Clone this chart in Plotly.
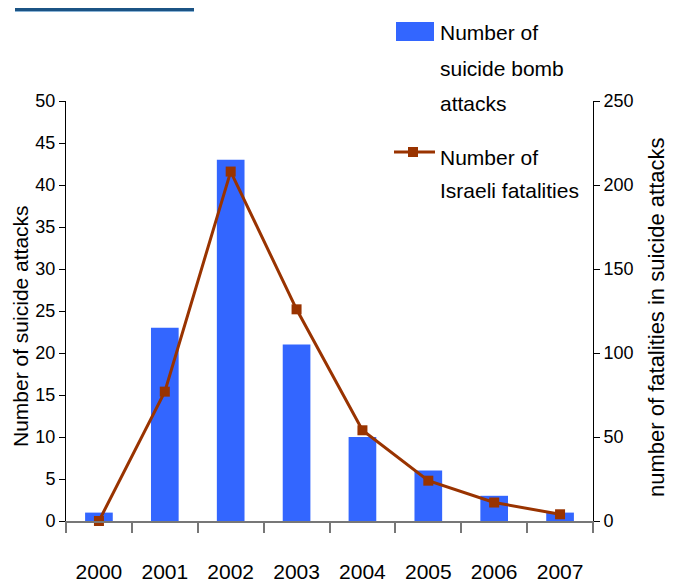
import plotly.graph_objects as go

years = ["2000", "2001", "2002", "2003", "2004", "2005", "2006", "2007"]
attacks = [1, 23, 43, 21, 10, 6, 3, 1]
fatalities = [0, 77, 208, 126, 54, 24, 11, 4]
left_ticks = list(range(0, 51, 5))
right_ticks = list(range(0, 251, 50))
legend_bar_lines = ["Number of", "suicide bomb", "attacks"]
legend_line_lines = ["Number of", "Israeli fatalities"]

FONT = "Liberation Sans, Arial, sans-serif"
BLUE = "#3366FF"
BROWN = "#993300"

fig = go.Figure()
fig.add_trace(go.Bar(x=years, y=attacks, marker=dict(color=BLUE, line=dict(width=0)),
                     name="Number of suicide bomb attacks", showlegend=False))
fig.add_trace(go.Scatter(x=years, y=fatalities, yaxis="y2", mode="lines+markers",
                         line=dict(color=BROWN, width=3),
                         marker=dict(symbol="square", size=10, color=BROWN),
                         cliponaxis=False, name="Number of Israeli fatalities", showlegend=False))

OFF = 8  # page body margin
W, H = 662, 577
L, R, T, B = 58, 77, 93, 64
pw, ph = W - L - R, H - T - B
def px(x): return (x - OFF - L) / pw
def py(y): return (H - B - (y - OFF)) / ph

fig.update_layout(
    width=W, height=H,
    margin=dict(l=L, r=R, t=T, b=B, autoexpand=False),
    paper_bgcolor="white", plot_bgcolor="white",
    bargap=0.58,
    xaxis=dict(type="category", tickson="boundaries", ticks="outside", ticklen=10,
               tickcolor="#777777", tickwidth=1.5, showline=True, linecolor="#777777", linewidth=2,
               showgrid=False, tickfont=dict(family=FONT, size=21, color="black"),
               ticklabelstandoff=31, automargin=False),
    yaxis=dict(range=[0, 50], tickvals=left_ticks, ticks="outside", ticklen=6, tickcolor="black",
               showline=True, linecolor="black", linewidth=1, showgrid=False, zeroline=False,
               tickfont=dict(family=FONT, size=18, color="black"), automargin=False),
    yaxis2=dict(range=[0, 250], tickvals=right_ticks, overlaying="y", side="right",
                ticks="outside", ticklen=6, tickcolor="black", showline=True, linecolor="black",
                linewidth=1, showgrid=False, zeroline=False,
                tickfont=dict(family=FONT, size=18, color="black"), automargin=False),
)

annotations = [
    dict(text="Number of suicide attacks", x=px(20), y=py(326), xref="paper", yref="paper",
         xanchor="center", yanchor="middle",
         textangle=-90, showarrow=False, font=dict(family=FONT, size=21, color="black")),
    dict(text="number of fatalities in suicide attacks", x=px(656), y=py(317), xref="paper",
         yref="paper", xanchor="center", yanchor="middle",
         textangle=-90, showarrow=False, font=dict(family=FONT, size=22, color="black")),
]
for i, t in enumerate(legend_bar_lines):
    annotations.append(dict(text=t, x=px(438), y=py(33 + 35 * i), xref="paper", yref="paper",
                            xanchor="left", yanchor="middle", showarrow=False,
                            font=dict(family=FONT, size=21, color="black")))
for i, t in enumerate(legend_line_lines):
    annotations.append(dict(text=t, x=px(438), y=py(157 + 33 * i), xref="paper", yref="paper",
                            xanchor="left", yanchor="middle", showarrow=False,
                            font=dict(family=FONT, size=21, color="black")))
fig.update_layout(annotations=annotations)

shapes = [
    dict(type="rect", xref="paper", yref="paper", x0=px(396), x1=px(434), y0=py(41), y1=py(22),
         fillcolor=BLUE, line=dict(width=0)),
    dict(type="line", xref="paper", yref="paper", x0=px(394), x1=px(435), y0=py(152), y1=py(152),
         line=dict(color=BROWN, width=3)),
    dict(type="rect", xref="paper", yref="paper", x0=px(408), x1=px(418), y0=py(157), y1=py(147),
         fillcolor=BROWN, line=dict(width=0)),
    dict(type="line", xref="paper", yref="paper", x0=px(15), x1=px(194), y0=py(9.5), y1=py(9.5),
         line=dict(color="#1B5384", width=3)),
    dict(type="line", xref="paper", yref="paper", x0=px(15), x1=px(194), y0=py(11.5), y1=py(11.5),
         line=dict(color="#8AB4D6", width=1)),
]
fig.update_layout(shapes=shapes)

fig.write_html("out.html")
